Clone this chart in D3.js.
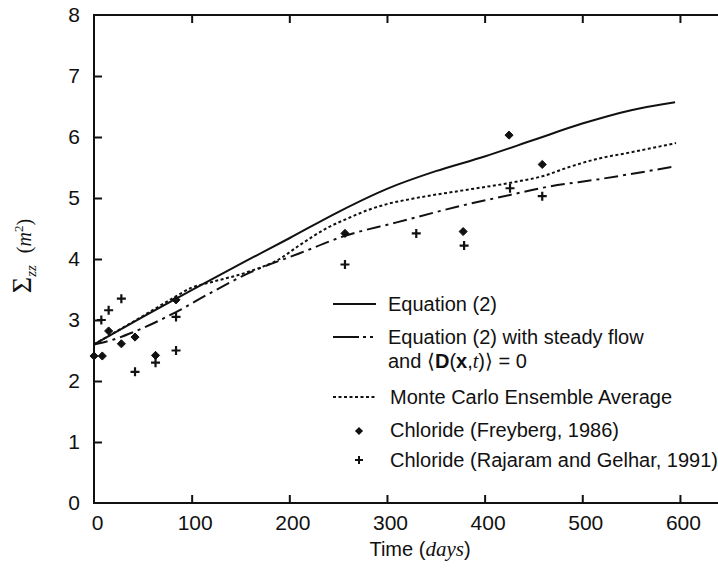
<!DOCTYPE html>
<html><head><meta charset="utf-8">
<script src="https://cdn.jsdelivr.net/npm/d3@7"></script>
<style>
html,body{margin:0;padding:0;background:#fff;}
svg{display:block;}
text{font-family:"Liberation Sans",Arial,Helvetica,sans-serif;fill:#111;}
</style></head>
<body>
<svg id="chart" width="718" height="573"></svg>
<script>
// ---- data ----
const timeTicks = [0, 100, 200, 300, 400, 500, 600];
const valueTicks = [0, 1, 2, 3, 4, 5, 6, 7, 8];

// Equation (2)
const eqDays   = [0, 50, 100, 150, 200, 250, 300, 350, 400, 450, 500, 550, 595];
const eqValues = [2.60, 3.05, 3.49, 3.92, 4.34, 4.77, 5.15, 5.44, 5.68, 5.95, 6.22, 6.44, 6.57];

// Equation (2) with steady flow and <D(x,t)> = 0
const steadyDays   = [0, 20, 40, 84, 120, 160, 210, 257, 310, 378, 426, 460, 518, 596];
const steadyValues = [2.60, 2.68, 2.80, 3.13, 3.45, 3.78, 4.09, 4.38, 4.60, 4.88, 5.05, 5.17, 5.31, 5.52];

// Monte Carlo Ensemble Average
const mcDays   = [0, 40, 80, 100, 120, 160, 190, 210, 240, 262, 280, 300, 330, 380, 430, 460, 485, 515, 550, 596];
const mcValues = [2.60, 2.97, 3.35, 3.53, 3.62, 3.80, 4.00, 4.22, 4.52, 4.68, 4.80, 4.90, 5.00, 5.13, 5.26, 5.36, 5.50, 5.64, 5.75, 5.90];

// Chloride (Freyberg, 1986)
const freybergDays   = [0, 8.5, 15, 28, 42, 63, 84, 257, 378, 425, 459];
const freybergValues = [2.41, 2.41, 2.82, 2.61, 2.72, 2.42, 3.33, 4.42, 4.45, 6.03, 5.55];

// Chloride (Rajaram and Gelhar, 1991)
const rajaramDays   = [7.5, 15, 28, 42, 63, 84, 84, 257, 330, 379, 426, 459];
const rajaramValues = [3.00, 3.16, 3.35, 2.15, 2.30, 3.05, 2.50, 3.91, 4.42, 4.22, 5.16, 5.03];

const legendLabels = ["Equation (2)", "Equation (2) with steady flow", "Monte Carlo Ensemble Average",
                      "Chloride (Freyberg, 1986)", "Chloride (Rajaram and Gelhar, 1991)"];

// ---- drawing ----
const svg = d3.select("#chart");
const mL = 94, mR = 719, mT = 15, mB = 503;
const x = d3.scaleLinear().domain([0, 640]).range([mL, mR]);
const y = d3.scaleLinear().domain([0, 8]).range([mB, mT]);
const ink = "#111";

// frame
svg.append("rect").attr("x", mL).attr("y", mT).attr("width", mR - mL).attr("height", mB - mT)
  .attr("fill", "none").attr("stroke", ink).attr("stroke-width", 2);

// axes (inward ticks)
const bottomAxis = svg.append("g").attr("transform", `translate(0,${mB})`)
  .call(d3.axisBottom(x).tickValues(timeTicks).tickSize(-8).tickPadding(12).tickFormat(d3.format("d")));
const topAxis = svg.append("g").attr("transform", `translate(0,${mT})`)
  .call(d3.axisTop(x).tickValues(timeTicks.filter(d => d > 0)).tickSize(-8).tickFormat(""));
const leftAxis = svg.append("g").attr("transform", `translate(${mL},0)`)
  .call(d3.axisLeft(y).tickValues(valueTicks).tickSize(-8).tickPadding(14).tickFormat(d3.format("d")));
[bottomAxis, topAxis, leftAxis].forEach(g => {
  g.select(".domain").remove();
  g.selectAll(".tick line").attr("stroke", ink).attr("stroke-width", 2);
  g.selectAll(".tick text").style("font-size", "21px").attr("fill", ink);
});
leftAxis.selectAll(".tick line").filter(d => d === 0 || d === 8).remove();
bottomAxis.selectAll(".tick line").filter(d => d === 0).remove();
bottomAxis.selectAll(".tick text").attr("dx", 3);

// axis titles
const xt = svg.append("text").attr("x", 420).attr("y", 556).attr("text-anchor", "middle").style("font-size", "20px");
xt.append("tspan").text("Time (");
xt.append("tspan").style("font-family", "'Liberation Serif','Times New Roman',serif").style("font-style", "italic").style("font-size", "21px").text("days");
xt.append("tspan").text(")");

const yt = svg.append("text").attr("transform", "translate(31,256) rotate(-90)").attr("text-anchor", "middle")
  .style("font-family", "'Liberation Serif','Times New Roman',serif").style("font-size", "20px");
yt.append("tspan").style("font-size", "28px").text("Σ");
yt.append("tspan").attr("dy", 5).style("font-style", "italic").style("font-size", "15px").text("zz");
yt.append("tspan").attr("dy", -5).attr("dx", 12).text("(");
yt.append("tspan").style("font-style", "italic").text("m");
yt.append("tspan").attr("dy", -8).style("font-size", "13px").text("2");
yt.append("tspan").attr("dy", 8).text(")");

// lines
const line = d3.line().x(d => x(d[0])).y(d => y(d[1])).curve(d3.curveMonotoneX);
const styles = {
  eq:     {dash: null,           w: 2},
  steady: {dash: "14,5,3,5",     w: 2},
  mc:     {dash: "3,2.5",        w: 2}
};
const series = [
  {key: "eq",     days: eqDays,     vals: eqValues},
  {key: "steady", days: steadyDays, vals: steadyValues},
  {key: "mc",     days: mcDays,     vals: mcValues}
];
series.forEach(s => {
  svg.append("path").datum(d3.zip(s.days, s.vals)).attr("d", line)
    .attr("fill", "none").attr("stroke", ink).attr("stroke-width", styles[s.key].w)
    .attr("stroke-dasharray", styles[s.key].dash);
});

// markers
const diamond = d3.symbol().type(d3.symbolDiamond2).size(42);
svg.append("g").selectAll("path").data(d3.zip(freybergDays, freybergValues)).join("path")
  .attr("transform", d => `translate(${x(d[0])},${y(d[1])})`).attr("d", diamond)
  .attr("fill", ink).attr("stroke", ink).attr("stroke-width", 1);
svg.append("g").selectAll("path").data(d3.zip(rajaramDays, rajaramValues)).join("path")
  .attr("transform", d => `translate(${x(d[0])},${y(d[1])})`)
  .attr("d", "M-4.5,0H4.5M0,-4.5V4.5").attr("stroke", ink).attr("stroke-width", 2.2).attr("fill", "none");

// legend
const lg = svg.append("g").style("font-size", "20px");
const sx0 = 333, sx1 = 376, tx = 388;
[["eq", 304], ["steady", 337], ["mc", 397]].forEach(([k, yy]) => {
  lg.append("line").attr("x1", sx0).attr("x2", sx1).attr("y1", yy).attr("y2", yy)
    .attr("stroke", ink).attr("stroke-width", 2).attr("stroke-dasharray", k === "steady" ? "26,4,3,4,3,4" : styles[k].dash);
});
lg.append("text").attr("x", tx).attr("y", 311).text(legendLabels[0]);
lg.append("text").attr("x", tx).attr("y", 344).text(legendLabels[1]);
const l2 = lg.append("text").attr("x", tx).attr("y", 368);
l2.append("tspan").text("and ⟨");
l2.append("tspan").style("font-weight", "bold").text("D");
l2.append("tspan").text("(");
l2.append("tspan").style("font-weight", "bold").text("x");
l2.append("tspan").text(",");
l2.append("tspan").style("font-family", "'Liberation Serif',serif").style("font-style", "italic").text("t");
l2.append("tspan").text(")⟩ = 0");
lg.append("text").attr("x", tx + 2).attr("y", 404).text(legendLabels[2]);
lg.append("path").attr("transform", `translate(359,431)`).attr("d", diamond).attr("fill", ink);
lg.append("text").attr("x", tx + 2).attr("y", 437).text(legendLabels[3]);
lg.append("path").attr("transform", `translate(359,460)`).attr("d", "M-4,0H4M0,-4V4")
  .attr("stroke", ink).attr("stroke-width", 2);
lg.append("text").attr("x", tx + 2).attr("y", 467).text(legendLabels[4]);
</script>
</body></html>
